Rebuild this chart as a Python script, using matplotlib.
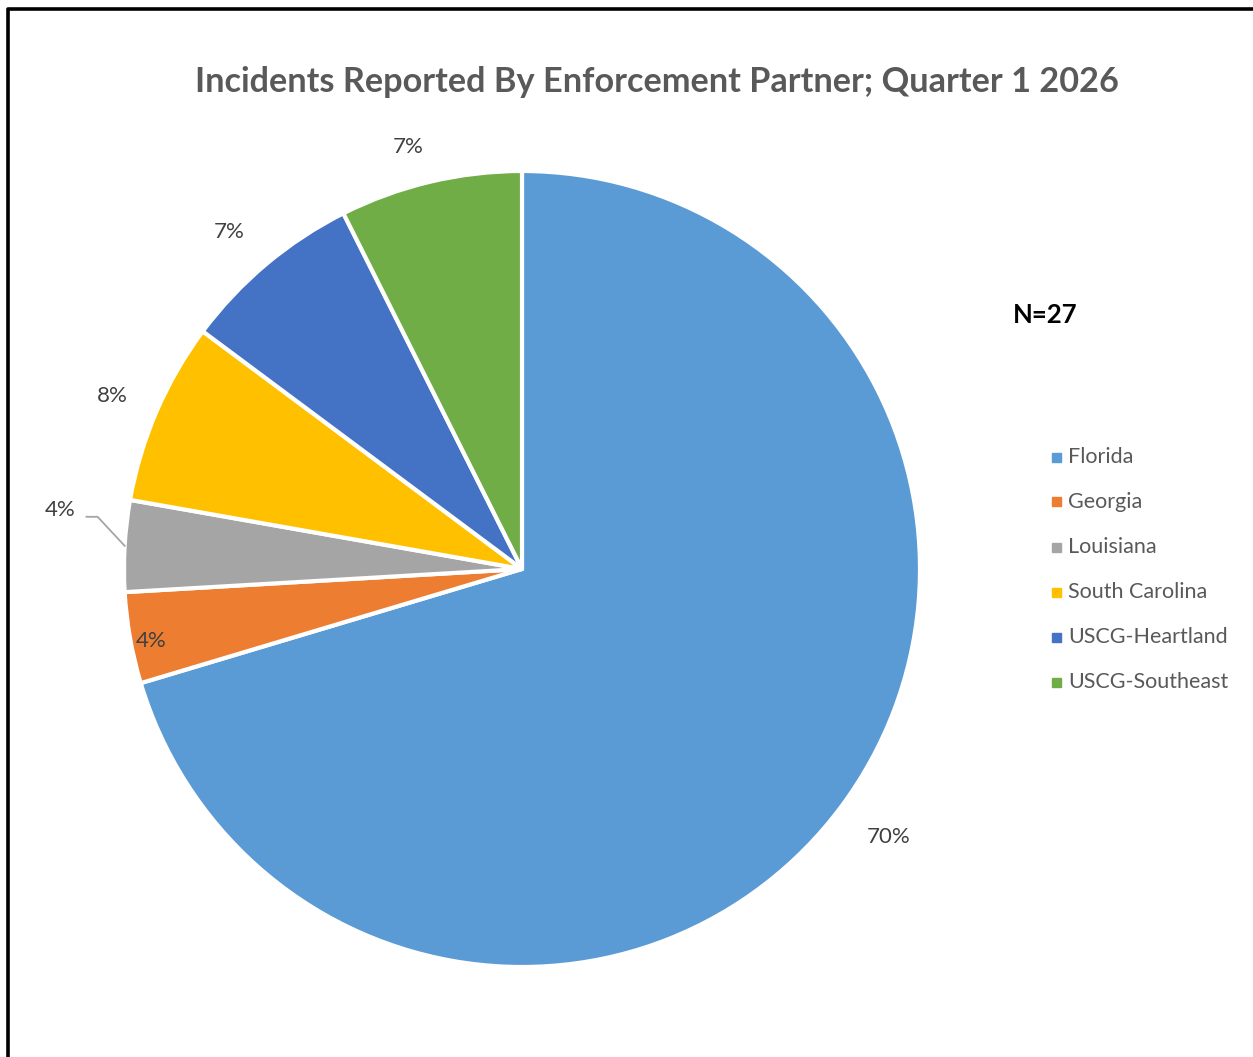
import matplotlib.pyplot as plt
from matplotlib.lines import Line2D
from matplotlib.patches import Rectangle
import numpy as np

W, H = 1253, 1057

PARTNERS = ["Florida", "Georgia", "Louisiana", "South Carolina", "USCG-Heartland", "USCG-Southeast"]
COUNTS = [19, 1, 1, 2, 2, 2]
PCT_LABELS = ["70%", "4%", "4%", "8%", "7%", "7%"]
COLORS = ["#5B9BD5", "#ED7D31", "#A5A5A5", "#FFC000", "#4472C4", "#70AD47"]
N_TOTAL = 27

TITLE = "Incidents Reported By Enforcement Partner; Quarter 1 2026"

# radial distance of each data label (in pie radii), Excel "best fit" look
LABEL_DIST = [1.14, 0.95, 1.17, 1.117, 1.123, 1.098]
LABEL_ANGLE_NUDGE = [0.5, 1, -4, 0.5, 1, 1.7]

plt.rcParams["font.family"] = ["Lato", "DejaVu Sans"]

fig = plt.figure(figsize=(W / 100, H / 100), dpi=100)
fig.patch.set_facecolor("white")


def fx(px):
    return px / W


def fy(py):
    return 1 - py / H


# pie centre (522, 569), radius 398 px
cx, cy, r = 522, 569, 398
ax = fig.add_axes([fx(cx - r), fy(cy + r), 2 * r / W, 2 * r / H])
wedges, _ = ax.pie(
    COUNTS,
    colors=COLORS,
    startangle=90,
    counterclock=False,
    radius=1,
    wedgeprops=dict(edgecolor="white", linewidth=3),
)
ax.set_xlim(-1, 1)
ax.set_ylim(-1, 1)
ax.set_aspect("equal")
ax.axis("off")

for w, lab, d, nudge in zip(wedges, PCT_LABELS, LABEL_DIST, LABEL_ANGLE_NUDGE):
    mid = np.deg2rad((w.theta1 + w.theta2) / 2 + nudge)
    ax.text(d * np.cos(mid), d * np.sin(mid), lab, ha="center", va="center",
            fontsize=16, color="#404040", clip_on=False)

# leader line for the Louisiana label
lw = wedges[2]
mid = np.deg2rad((lw.theta1 + lw.theta2) / 2)
ex, ey = np.cos(mid), np.sin(mid)
ax.plot([ex, ex - 0.068, ex - 0.096], [ey, ey + 0.073, ey + 0.073],
        color="#A5A5A5", linewidth=1.3, clip_on=False)

fig.text(fx(657), fy(82), TITLE, ha="center", va="center",
         fontsize=24.7, fontweight="bold", color="#595959")

fig.text(fx(1013), fy(315), f"N={N_TOTAL}", ha="left", va="center",
         fontsize=18.5, fontweight="bold", color="black")

# legend
for i, (name, col) in enumerate(zip(PARTNERS, COLORS)):
    yy = 457 + i * 45
    fig.patches.append(Rectangle((fx(1052), fy(yy + 4.5)), 9 / W, 9 / H,
                                 transform=fig.transFigure, color=col))
    fig.text(fx(1068), fy(yy), name, ha="left", va="center",
             fontsize=15.5, color="#595959")

# outer frame (left and top edges visible)
fig.lines.append(Line2D([fx(7.5), fx(7.5), 1.0], [0.0, fy(9), fy(9)],
                        transform=fig.transFigure, color="black", linewidth=2.6))

fig.savefig("out.png", dpi=100, facecolor="white")
